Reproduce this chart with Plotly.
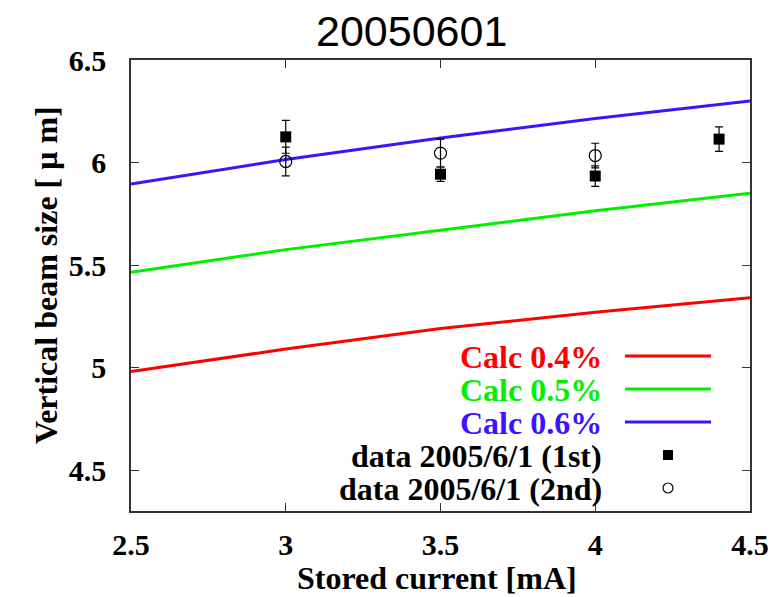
import plotly.graph_objects as go

# Calculated curves (x = stored current, mA)
calc_x = [2.5, 3.0, 3.5, 4.0, 4.5]
calc_04 = [4.98, 5.09, 5.19, 5.27, 5.34]
calc_05 = [5.465, 5.575, 5.67, 5.765, 5.85]
calc_06 = [5.895, 6.015, 6.12, 6.215, 6.30]

# Measured data
d1_x = [3.0, 3.5, 4.0, 4.4]
d1_y = [6.125, 5.943, 5.934, 6.114]
d1_err = [0.08, 0.035, 0.05, 0.06]

d2_x = [3.0, 3.5, 4.0]
d2_y = [6.005, 6.046, 6.034]
d2_err = [0.07, 0.068, 0.06]

x_ticks = [2.5, 3, 3.5, 4, 4.5]
x_tick_text = ["2.5", "3", "3.5", "4", "4.5"]
y_ticks = [4.5, 5, 5.5, 6, 6.5]
y_tick_text = ["4.5", "5", "5.5", "6", "6.5"]

RED, GREEN, BLUE = "#ff0000", "#00f000", "#3a14ff"
SERIF = "Liberation Serif"

fig = go.Figure()
for ys, c in [(calc_04, RED), (calc_05, GREEN), (calc_06, BLUE)]:
    fig.add_trace(go.Scatter(x=calc_x, y=ys, mode="lines", line=dict(color=c, width=3),
                             showlegend=False, hoverinfo="skip"))

fig.add_trace(go.Scatter(x=d1_x, y=d1_y, mode="markers",
                         marker=dict(symbol="square", size=11, color="black"),
                         error_y=dict(type="data", array=d1_err, color="black", thickness=1.2, width=4),
                         showlegend=False))
fig.add_trace(go.Scatter(x=d2_x, y=d2_y, mode="markers",
                         marker=dict(symbol="circle-open", size=12, color="black", line=dict(width=1.2)),
                         error_y=dict(type="data", array=d2_err, color="black", thickness=1.2, width=4),
                         showlegend=False))

# Custom legend (text right-aligned, samples on the right)
W, H = 778, 597
L, R, T, B = 131, 28, 60, 86
pw, ph = W - L - R, H - T - B
def px(x): return (x - L) / pw
def py(y): return 1 - (y - T) / ph

leg = [("Calc 0.4%", RED, "line"), ("Calc 0.5%", GREEN, "line"), ("Calc 0.6%", BLUE, "line"),
       ("data 2005/6/1 (1st)", "black", "square"), ("data 2005/6/1 (2nd)", "black", "circle")]
shapes = []
annos = []
for i, (txt, c, kind) in enumerate(leg):
    yy = 356 + i * 33
    annos.append(dict(x=px(604), y=py(yy + 1), xref="paper", yref="paper", text=txt, showarrow=False,
                      xanchor="right", yanchor="middle", font=dict(family=SERIF, size=32, color=c,
                                                                   weight="bold")))
    if kind == "line":
        shapes.append(dict(type="line", xref="paper", yref="paper", x0=px(625), x1=px(711),
                           y0=py(yy), y1=py(yy), line=dict(color=c, width=3)))
    elif kind == "square":
        shapes.append(dict(type="rect", xref="paper", yref="paper", x0=px(663), x1=px(673),
                           y0=py(yy - 5), y1=py(yy + 5), fillcolor="black", line=dict(width=0)))
    else:
        shapes.append(dict(type="circle", xref="paper", yref="paper", x0=px(663), x1=px(673),
                           y0=py(yy - 5), y1=py(yy + 5), line=dict(color="black", width=1.2)))

annos.append(dict(x=px(411), y=py(31), xref="paper", yref="paper", text="20050601", showarrow=False,
                  xanchor="center", yanchor="middle",
                  font=dict(family="Liberation Sans", size=43, color="black")))
annos.append(dict(x=px(437), y=py(578), xref="paper", yref="paper", text="Stored current [mA]",
                  showarrow=False, xanchor="center", yanchor="middle",
                  font=dict(family=SERIF, size=32, color="black", weight="bold")))
annos.append(dict(x=px(46), y=py(275), xref="paper", yref="paper", text="Vertical beam size [ μ m]",
                  showarrow=False, xanchor="center", yanchor="middle", textangle=-90,
                  font=dict(family=SERIF, size=32, color="black", weight="bold")))

axis_common = dict(showline=True, linecolor="#333333", linewidth=1.5, mirror="allticks", ticks="inside",
                   ticklen=8, tickwidth=1, tickcolor="#333333", showgrid=False, zeroline=False,
                   automargin=False,
                   tickfont=dict(family=SERIF, size=30, color="black", weight="bold"))

fig.update_layout(
    width=W, height=H, margin=dict(l=L, r=R, t=T, b=B),
    plot_bgcolor="white", paper_bgcolor="white",
    xaxis=dict(range=[2.5, 4.5], tickvals=x_ticks, ticktext=x_tick_text,
               ticklabelstandoff=6, **axis_common),
    yaxis=dict(range=[4.3, 6.5], tickvals=y_ticks, ticktext=y_tick_text,
               ticklabelstandoff=17, **axis_common),
    shapes=shapes, annotations=annos, showlegend=False,
)

fig.write_html("out.html", config={"displayModeBar": False},
               post_script="document.body.style.margin='0';document.body.style.padding='0';"
                           "document.documentElement.style.overflow='hidden';")
